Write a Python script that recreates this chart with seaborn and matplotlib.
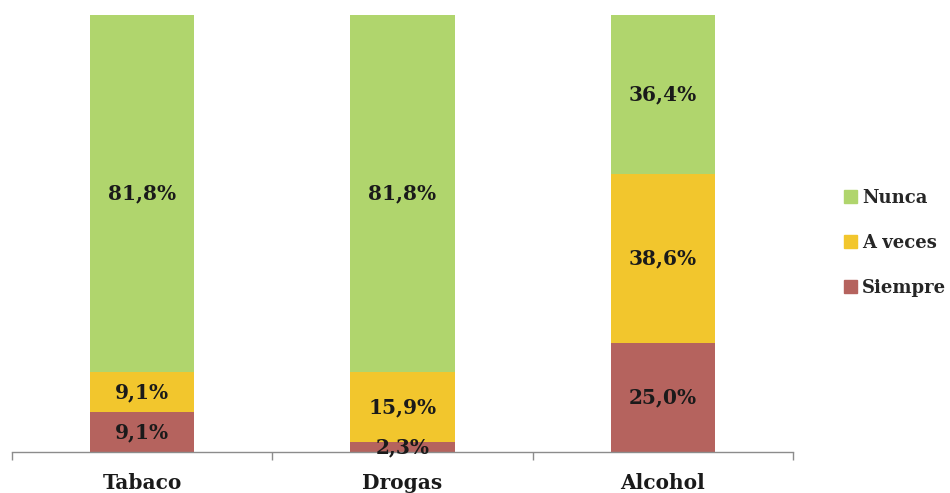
import matplotlib
matplotlib.use("Agg")
import matplotlib.pyplot as plt
import matplotlib.patches as mpatches
import seaborn as sns
import pandas as pd
import numpy as np

categories = ["Tabaco", "Drogas", "Alcohol"]
siempre = [9.1, 2.3, 25.0]
a_veces = [9.1, 15.9, 38.6]
nunca = [81.8, 81.8, 36.4]
series_names = ["Nunca", "A veces", "Siempre"]
colors = {"Nunca": "#b0d56d", "A veces": "#f2c62d", "Siempre": "#b5635e"}

sns.set_theme(style="white")
plt.rcParams["font.family"] = ["DejaVu Serif"]

fig = plt.figure(figsize=(9.5, 4.93), dpi=100)
ax = fig.add_axes([12/950, 41/493, (793-12)/950, (452-15)/493])

s = np.array(siempre)
a = np.array(a_veces)
n = np.array(nunca)

df_tot = pd.DataFrame({"cat": categories, "v": s + a + n})
df_mid = pd.DataFrame({"cat": categories, "v": s + a})
df_low = pd.DataFrame({"cat": categories, "v": s})

sns.barplot(data=df_tot, x="cat", y="v", color=colors["Nunca"], width=0.4,
            ax=ax, linewidth=0, saturation=1)
sns.barplot(data=df_mid, x="cat", y="v", color=colors["A veces"], width=0.4,
            ax=ax, linewidth=0, saturation=1)
sns.barplot(data=df_low, x="cat", y="v", color=colors["Siempre"], width=0.4,
            ax=ax, linewidth=0, saturation=1)

def fmt(v):
    return f"{v:.1f}%".replace(".", ",")

for i in range(len(categories)):
    for bottom, val in [(0, s[i]), (s[i], a[i]), (s[i] + a[i], n[i])]:
        ax.text(i, bottom + val / 2, fmt(val), ha="center", va="center",
                fontsize=14.5, fontweight="bold", color="#1a1a1a")

ax.set_xlim(-0.5, 2.5)
ax.set_ylim(0, 100)
ax.set_xlabel("")
ax.set_ylabel("")
ax.set_yticks([])
ax.set_xticks(range(len(categories)))
ax.set_xticklabels(categories, fontsize=14.5, fontweight="bold", color="#1a1a1a")
ax.tick_params(axis="x", which="major", length=0, pad=15)
ax.set_xticks([-0.5, 0.5, 1.5, 2.5], minor=True)
ax.tick_params(axis="x", which="minor", length=6, width=1, color="#8c8c8c",
               direction="out", bottom=True)
for side in ["top", "right", "left"]:
    ax.spines[side].set_visible(False)
ax.spines["bottom"].set_color("#8c8c8c")
ax.spines["bottom"].set_linewidth(1)
ax.set_facecolor("none")

handles = [mpatches.Patch(color=colors[k], label=k) for k in series_names]
leg = fig.legend(handles=handles, loc="center left",
                 bbox_to_anchor=(828/950, 1 - 243/493), frameon=False,
                 handlelength=0.7, handleheight=0.7, handletextpad=0.3,
                 labelspacing=1.5, prop={"weight": "bold", "size": 13})

fig.savefig("out.png", dpi=100)
